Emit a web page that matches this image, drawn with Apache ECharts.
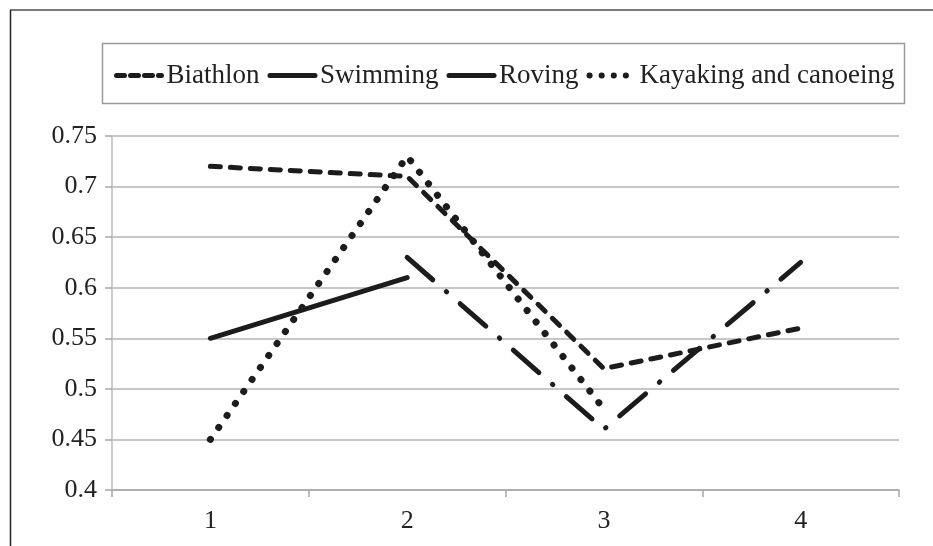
<!DOCTYPE html>
<html>
<head>
<meta charset="utf-8">
<script src="https://cdn.jsdelivr.net/npm/echarts@6/dist/echarts.min.js"></script>
<style>html,body{margin:0;padding:0;background:#fff}#c{width:933px;height:546px}</style>
</head>
<body>
<div id="c"></div>
<script>
const categories = ['1', '2', '3', '4'];
const biathlon = [0.72, 0.71, 0.52, 0.56];
const swimming = [null, 0.63, 0.46, 0.625];
const roving = [0.55, 0.61, null, null];
const kayaking = [0.45, 0.73, 0.48, null];
const seriesNames = ['Biathlon', 'Swimming', 'Roving', 'Kayaking and canoeing'];

const ink = '#1c1c1c';
const font = '"Liberation Serif", "Times New Roman", serif';
const styles = [
  { width: 5, type: [10, 10] },
  { width: 5, type: [34, 18, 0.5, 18] },
  { width: 5, type: 'solid' },
  { width: 7, type: [0.1, 14.5] }
];
const legendStyles = [
  { width: 5, type: [8, 6] },
  { width: 5, type: 'solid' },
  { width: 5, type: 'solid' },
  { width: 6, type: [0.1, 12] }
];
const chart = echarts.init(document.getElementById('c'));
chart.setOption({
  animation: false,
  backgroundColor: '#fff',
  graphic: [
    { type: 'line', shape: { x1: 10, y1: 10, x2: 933, y2: 10 }, style: { stroke: '#7a7a7a', lineWidth: 2 } },
    { type: 'line', shape: { x1: 10.5, y1: 10, x2: 10.5, y2: 546 }, style: { stroke: '#222', lineWidth: 1.5 } },
    { type: 'rect', shape: { x: 102.5, y: 43.5, width: 802, height: 60 }, style: { fill: 'none', stroke: '#9a9a9a', lineWidth: 1.5 }, z: -1 }
  ],
  legend: {
    top: 57,
    left: 109,
    data: seriesNames.map((n, i) => ({
      name: n,
      lineStyle: { color: ink, width: legendStyles[i].width, type: legendStyles[i].type, cap: 'round' }
    })),
    itemWidth: 45,
    itemHeight: 14,
    itemGap: 8,
    itemStyle: { opacity: 0 },
    textStyle: { fontFamily: font, fontSize: 27, color: '#222' }
  },
  grid: { left: 112, right: 34, top: 136, bottom: 56 },
  xAxis: {
    type: 'category',
    data: categories,
    boundaryGap: true,
    axisLine: { lineStyle: { color: '#a8a8a8', width: 1.5 } },
    axisTick: { show: true, length: 7, lineStyle: { color: '#a8a8a8', width: 1.5 } },
    axisLabel: { fontFamily: font, fontSize: 26, color: '#222', margin: 18 }
  },
  yAxis: {
    type: 'value',
    min: 0.4,
    max: 0.75,
    interval: 0.05,
    axisLine: { show: true, lineStyle: { color: '#bdbdbd', width: 1.5 } },
    axisTick: { show: true, length: 7, lineStyle: { color: '#a8a8a8', width: 1.5 } },
    axisLabel: { fontFamily: font, fontSize: 26, color: '#222', margin: 15 },
    splitLine: { lineStyle: { color: '#b4b4b4', width: 1.5 } }
  },
  series: [biathlon, swimming, roving, kayaking].map((d, i) => ({
    name: seriesNames[i], type: 'line', data: d, symbol: 'none', connectNulls: false,
    lineStyle: { color: ink, width: styles[i].width, type: styles[i].type, cap: 'round' },
    itemStyle: { color: ink }
  }))
});
</script>
</body>
</html>
